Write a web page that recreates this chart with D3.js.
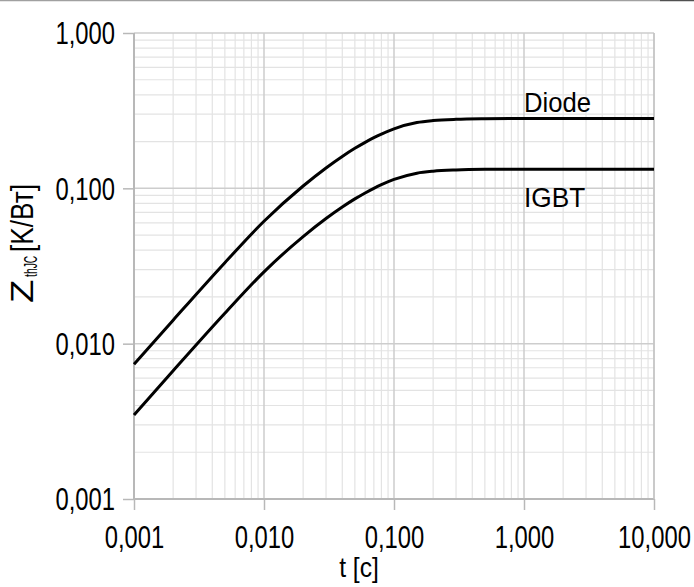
<!DOCTYPE html>
<html>
<head>
<meta charset="utf-8">
<script src="https://cdn.jsdelivr.net/npm/d3@7"></script>
<style>
  html, body { margin: 0; padding: 0; background: #fff; }
  svg text { font-family: "Liberation Sans", Arial, sans-serif; fill: #000; }
</style>
</head>
<body>
<svg id="chart" width="694" height="587"></svg>
<script>
// ---- data ----
const timeValues  = [0.001, 0.002, 0.005, 0.01, 0.02, 0.03, 0.04, 0.05, 0.06, 0.07, 0.08, 0.1, 0.15, 0.2, 0.3, 0.5, 1, 10];
const diodeValues = [0.00736, 0.01417, 0.03323, 0.0614, 0.1035, 0.1353, 0.1605, 0.1810, 0.1978, 0.2118, 0.2234, 0.2416, 0.2651, 0.2729, 0.2781, 0.2805, 0.2815, 0.2815];
const igbtValues  = [0.00347, 0.00669, 0.01569, 0.0290, 0.0489, 0.0639, 0.0758, 0.0855, 0.0934, 0.1000, 0.1055, 0.1141, 0.1252, 0.1289, 0.1313, 0.1325, 0.1329, 0.1329];
const seriesNames = ["Diode", "IGBT"];
const xTickValues = [0.001, 0.01, 0.1, 1, 10];
const xTickLabels = ["0,001", "0,010", "0,100", "1,000", "10,000"];
const yTickValues = [0.001, 0.01, 0.1, 1];
const yTickLabels = ["0,001", "0,010", "0,100", "1,000"];

// ---- layout ----
const svg = d3.select("#chart");
const L = 134, R = 654, T = 33, B = 499;

const x = d3.scaleLog().domain([0.001, 10]).range([L, R]);
const y = d3.scaleLog().domain([0.001, 1]).range([B, T]);

function squeeze(sel, f) {
  sel.each(function () {
    const w = this.getComputedTextLength();
    d3.select(this).attr("textLength", w * f).attr("lengthAdjust", "spacingAndGlyphs");
  });
}

// top frame line
svg.append("line").attr("x1", 0).attr("x2", 660).attr("y1", 0.5).attr("y2", 0.5)
  .attr("stroke", "#a0a0a0").attr("stroke-width", 1.5);
svg.append("line").attr("x1", 660).attr("x2", 694).attr("y1", 0.5).attr("y2", 0.5)
  .attr("stroke", "#505050").attr("stroke-width", 1.5);

// minor grid
function minorTicks(domain) {
  const out = [];
  for (let e = Math.round(Math.log10(domain[0])); e < Math.round(Math.log10(domain[1])); e++) {
    for (let k = 2; k <= 9; k++) out.push(k * Math.pow(10, e));
  }
  return out;
}
const g = svg.append("g");
g.selectAll(".vminor").data(minorTicks(x.domain())).join("line")
  .attr("x1", d => x(d)).attr("x2", d => x(d)).attr("y1", T).attr("y2", B)
  .attr("stroke", "#e3e3e3").attr("stroke-width", 1.2);
g.selectAll(".hminor").data(minorTicks(y.domain())).join("line")
  .attr("x1", L).attr("x2", R).attr("y1", d => y(d)).attr("y2", d => y(d))
  .attr("stroke", "#e3e3e3").attr("stroke-width", 1.2);
// major grid
g.selectAll(".vmajor").data(xTickValues).join("line")
  .attr("x1", d => x(d)).attr("x2", d => x(d)).attr("y1", T).attr("y2", B)
  .attr("stroke", "#cdcdcd").attr("stroke-width", 1.5);
g.selectAll(".hmajor").data(yTickValues).join("line")
  .attr("x1", L).attr("x2", R).attr("y1", d => y(d)).attr("y2", d => y(d))
  .attr("stroke", "#cdcdcd").attr("stroke-width", 1.5);

// axes
const xAxis = d3.axisBottom(x).tickValues(xTickValues)
  .tickFormat((d, i) => xTickLabels[i]).tickSize(11).tickPadding(16);
const yAxis = d3.axisLeft(y).tickValues(yTickValues)
  .tickFormat((d, i) => yTickLabels[i]).tickSize(11).tickPadding(8);

const gx = svg.append("g").attr("transform", `translate(0,${B})`).call(xAxis);
const gy = svg.append("g").attr("transform", `translate(${L},0)`).call(yAxis);
[gx, gy].forEach(a => {
  a.select(".domain").remove();
  a.selectAll(".tick line").attr("stroke", "#b8b8b8").attr("stroke-width", 1.5);
  a.selectAll(".tick text").attr("font-size", 30.5)
    .attr("font-family", "\"Liberation Sans\", Arial, sans-serif").attr("fill", "#000");
  squeeze(a.selectAll(".tick text"), 0.78);
});
gy.selectAll(".tick text").attr("dy", "0.36em");
// axis lines
svg.append("line").attr("x1", L).attr("x2", L).attr("y1", T).attr("y2", B)
  .attr("stroke", "#b8b8b8").attr("stroke-width", 2);
svg.append("line").attr("x1", L).attr("x2", R).attr("y1", B).attr("y2", B)
  .attr("stroke", "#b8b8b8").attr("stroke-width", 2);
svg.append("line").attr("x1", R).attr("x2", R).attr("y1", T).attr("y2", B)
  .attr("stroke", "#c4c4c4").attr("stroke-width", 1.5);

// curves
const line = d3.line().x(d => x(d[0])).y(d => y(d[1])).curve(d3.curveMonotoneX);
const allSeries = [diodeValues, igbtValues];
svg.selectAll(".curve").data(allSeries).join("path")
  .attr("d", vals => line(timeValues.map((t, i) => [t, vals[i]])))
  .attr("fill", "none").attr("stroke", "#000").attr("stroke-width", 3);

// series labels
const dl = svg.append("text").attr("x", 524).attr("y", 112).attr("font-size", 28.5).text(seriesNames[0]);
squeeze(dl, 0.9);
const il = svg.append("text").attr("x", 524).attr("y", 207).attr("font-size", 28.5).text(seriesNames[1]);
squeeze(il, 0.92);

// axis titles
const xt = svg.append("text").attr("x", 359).attr("y", 577).attr("font-size", 28)
  .attr("text-anchor", "middle").text("t [с]");
squeeze(xt, 0.88);

const yg = svg.append("g").attr("transform", "translate(33,303) rotate(-90)");
yg.append("text").attr("font-size", 32).attr("transform", "scale(1.2,1)").text("Z");
const sub = yg.append("text").attr("x", 26).attr("y", 4).attr("font-size", 18.5).text("thJC");
squeeze(sub, 0.56);
const br = yg.append("text").attr("x", 51).attr("font-size", 32).text("[K/Вт]");
squeeze(br, 0.82);
</script>
</body>
</html>
